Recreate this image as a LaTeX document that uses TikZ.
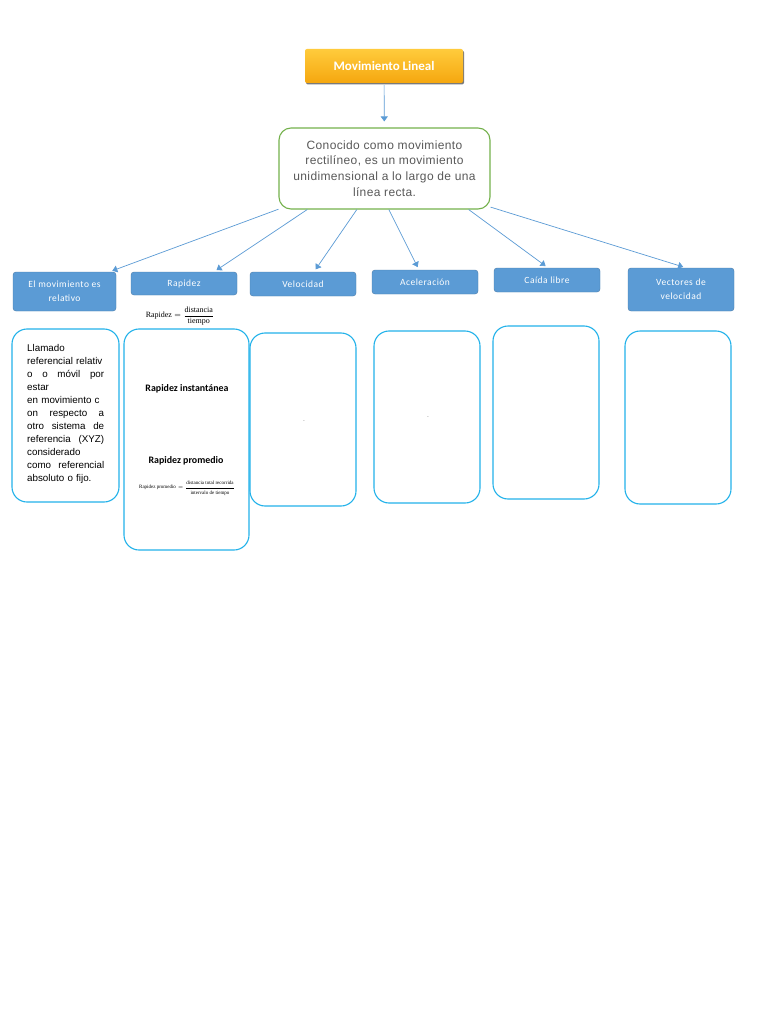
\documentclass[tikz,border=0pt]{standalone}
\usepackage{amsmath}
\usepackage{fontspec}
\usetikzlibrary{arrows,arrows.meta,shadows}
\newfontfamily\calibri{Carlito}
\newfontfamily\calibrisp[LetterSpace=5]{Carlito}
\newfontfamily\arial{Liberation Sans}
\newfontfamily\arialsp[LetterSpace=3]{Liberation Sans}
\newfontfamily\tnr{Liberation Serif}
\definecolor{hdrblue}{HTML}{5B9BD5}
\definecolor{arrblue}{HTML}{5B9BD5}
\definecolor{boxcyan}{HTML}{22B2EA}
\definecolor{leafgreen}{HTML}{74B14C}
\definecolor{txtgray}{HTML}{595959}
\definecolor{orangetop}{HTML}{FFCB3C}
\definecolor{orangebot}{HTML}{F5A70F}
\tikzstyle{title}=[rectangle,rounded corners=2pt,top color=orangetop,bottom color=orangebot,minimum width=158pt,minimum height=34pt,text=white,font=\calibri\bfseries\fontsize{13}{15}\selectfont,drop shadow={shadow xshift=1pt,shadow yshift=-1.5pt,fill=black!65,opacity=0.8}]
\tikzstyle{concept}=[rectangle,rounded corners=12pt,draw=leafgreen,line width=1.1pt,fill=white,minimum width=211pt,minimum height=81pt,text=txtgray,align=center,font=\arialsp\fontsize{12}{15.7}\selectfont]
\tikzstyle{hdr}=[rectangle,rounded corners=3pt,fill=hdrblue,draw=hdrblue!80!black,text=white,align=center,inner sep=0pt,font=\calibrisp\fontsize{9.5}{14}\selectfont]
\tikzstyle{box}=[rectangle,rounded corners=15pt,draw=boxcyan,line width=1.1pt]
\tikzstyle{arr}=[draw,arrblue,line width=0.7pt,-{Triangle[length=5pt,width=7pt]}]
\tikzstyle{small}=[inner sep=0pt,font=\arial\fontsize{9.8}{13}\selectfont]
\tikzstyle{sub}=[inner sep=0pt,font=\calibri\bfseries\fontsize{9.9}{11}\selectfont]
\newcommand{\jl}[1]{\makebox[77pt][s]{\spaceskip=0.28em plus 1fil\relax #1}}

\begin{document}
\begin{tikzpicture}[x=1pt,y=-1pt]
    \useasboundingbox[fill=white] (0,0) rectangle (768,1024);

    \node[title] (lineal) at (384,66) {Movimiento Lineal};
    \node[concept] (conocido) at (384.5,168.5) {Conocido como movimiento\\rectilíneo, es un movimiento\\unidimensional a lo largo de una\\línea recta.};
    \path[arr,shorten <=2pt,shorten >=6pt] (lineal) -- (conocido);

    \foreach \pos/\name/\w/\h/\val in {{(64.5,291.5)/relativo/103/39/El movimiento es\\relativo},
    {(184,283.5)/rapidez/106/23/Rapidez}, {(303,284)/velocidad/106/24/Velocidad},
    {(425,282)/aceleracion/106/24/Aceleración}, {(547,280)/caida/106/24/Caída libre},
    {(681,289.5)/vectores/106/43/Vectores de\\velocidad}}
        \node[hdr,minimum width=\w pt,minimum height=\h pt] (\name) at \pos {\val};

    \foreach \ang/\dest/\dx in
    {201.75/relativo/45,208.5/rapidez/30,236.8/velocidad/11,276.3/aceleracion/-6,334.1/caida/1,340.6/vectores/5}
        \path[arr,shorten >=3pt] (conocido.\ang) -- ([xshift=\dx pt]\dest.north);

    \foreach \pos/\name/\w/\h in {{(65.5,415.5)/boxrel/107/173}, {(186.5,439.5)/boxrap/125/221},
    {(303,419.5)/boxvel/106/173}, {(427,417)/boxacel/106/172},
    {(546,412.5)/boxcaida/106/173}, {(678,417.5)/boxvect/106/173}}
        \node[box,minimum width=\w pt,minimum height=\h pt] (\name) at \pos {};

    \node[inner sep=0pt,font=\tnr\fontsize{8}{9}\selectfont] (formrap) at (180,316)
        {$\text{Rapidez}=\dfrac{\text{distancia}}{\text{tiempo}}$};

    \node[small,anchor=north west,text width=77pt,align=left] (llamado) at (27,344)
        {Llamado\\referencial relativ\\\jl{o o móvil por}\\estar\\en movimiento c\\\jl{on respecto a}\\\jl{otro sistema de}\\\jl{referencia (XYZ)}\\considerado\\\jl{como referencial}\\absoluto o fijo.};

    \node[sub] (instant) at (187,389) {Rapidez instantánea};
    \node[sub] (promedio) at (186,461) {Rapidez promedio};
    \node[inner sep=0pt,font=\tnr\fontsize{5}{5.5}\selectfont] (formprom) at (187,488)
        {$\text{Rapidez promedio}=\dfrac{\text{distancia total recorrida}}{\text{intervalo de tiempo}}$};

    \node[small,font=\arial\fontsize{5}{6}\selectfont] (puntovel) at (304,421) {.};
    \node[small,font=\arial\fontsize{5}{6}\selectfont] (puntoacel) at (428,417) {.};
\end{tikzpicture}
\end{document}
